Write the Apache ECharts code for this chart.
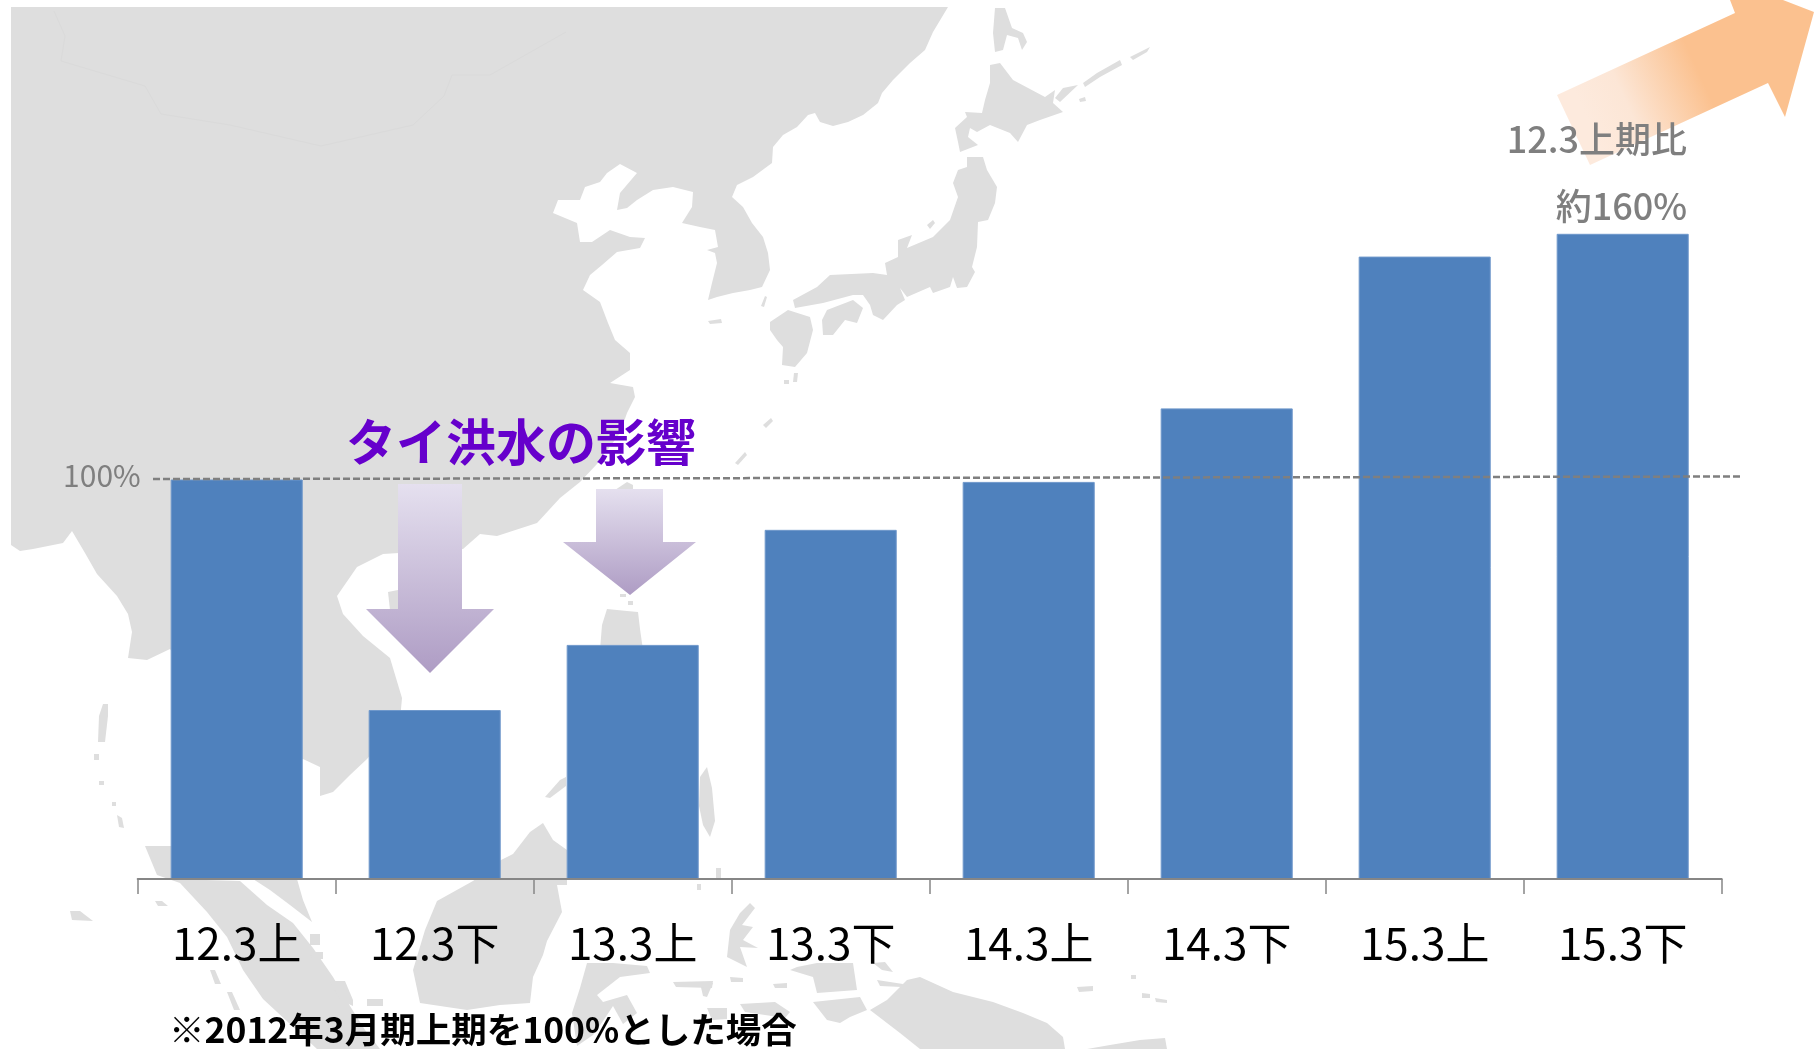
<!DOCTYPE html>
<html>
<head>
<meta charset="utf-8">
<title>chart</title>
<script src="https://cdn.jsdelivr.net/npm/echarts@6/dist/echarts.min.js"></script>
<style>
  html, body { margin: 0; padding: 0; background: #fff; }
  #chart { width: 1814px; height: 1049px; }
</style>
</head>
<body>
<div id="chart"></div>
<script>
// chart data
var categories = ['12.3上', '12.3下', '13.3上', '13.3下', '14.3上', '14.3下', '15.3上', '15.3下'];
var salesIndex = [100, 42.3, 58.6, 87.4, 99.4, 117.8, 155.8, 161.5];
var yTickLabel = '100%';
// the label sits a little above the guide in the original
var yTickAt = [101];
// 100% guide: slightly tilted in the original, x runs 0..1 over its own grid
var guideX = [0, 1];
var guideY = [100.1, 100.75];

var FONT = '"Noto Sans CJK JP", "Noto Sans", sans-serif';

// background map outline, traced by hand (page pixels), decoration only
var mapLand = [
  // asian continent
  [[11,7],[948,7],[933,32],[925,50],[910,63],[893,80],[882,93],[878,103],[863,115],[848,122],[833,126],[820,122],[815,113],[808,115],[797,127],[783,135],[773,147],[772,163],[753,177],[737,185],[732,197],[743,207],[752,223],[763,237],[768,253],[770,270],[762,287],[750,290],[733,293],[717,297],[708,300],[712,283],[717,263],[715,253],[707,250],[718,247],[715,230],[700,227],[682,223],[692,207],[693,192],[673,187],[653,190],[637,200],[627,208],[617,210],[620,193],[637,173],[620,164],[607,173],[600,182],[585,187],[580,200],[558,200],[553,213],[577,223],[580,242],[592,242],[610,230],[630,237],[645,238],[640,248],[617,252],[602,265],[590,275],[583,290],[600,302],[608,323],[615,340],[630,353],[630,370],[610,383],[633,387],[635,397],[627,413],[620,433],[597,464],[580,482],[560,498],[537,523],[497,536],[480,534],[463,549],[383,554],[357,567],[337,596],[343,614],[363,636],[390,658],[402,698],[400,720],[367,759],[350,775],[333,792],[320,796],[320,767],[303,759],[260,759],[170,649],[147,660],[128,658],[132,632],[128,614],[117,596],[97,574],[85,553],[72,531],[63,543],[33,549],[20,551],[11,545]],
  // honshu
  [[967,157],[983,157],[987,170],[997,187],[995,203],[988,220],[978,222],[977,247],[972,267],[975,272],[967,287],[957,288],[953,277],[950,287],[933,293],[930,287],[907,297],[900,288],[905,300],[897,305],[883,320],[873,315],[870,305],[863,295],[853,295],[823,303],[795,308],[793,300],[817,287],[830,275],[873,273],[887,275],[885,263],[898,257],[898,240],[912,235],[907,248],[933,237],[950,220],[958,197],[953,183],[958,170],[967,167]],
  // hokkaido
  [[990,65],[1000,63],[1013,80],[1045,97],[1055,90],[1053,103],[1063,112],[1040,120],[1027,125],[1018,142],[1010,133],[990,125],[977,132],[970,128],[968,137],[978,145],[960,152],[958,142],[955,128],[967,117],[965,112],[982,113],[985,100],[990,83]],
  // sakhalin
  [[995,8],[1005,8],[1012,28],[1023,33],[1027,42],[1022,50],[1018,38],[1007,35],[1003,50],[995,52],[993,33]],
  // kuril islands
  [[1055,98],[1063,88],[1078,85],[1060,102]],
  [[1083,83],[1097,73],[1120,60],[1122,65],[1100,77],[1085,87]],
  [[1130,57],[1150,47],[1147,52],[1133,60]],
  [[1079,99],[1085,97],[1086,101],[1080,102]],
  // kyushu, shikoku
  [[788,310],[810,317],[813,330],[807,353],[795,367],[782,365],[783,347],[777,340],[770,330],[770,322]],
  [[827,310],[853,300],[863,308],[857,323],[845,320],[833,335],[823,335],[822,320]],
  // small islands around japan
  [[794,373],[798,373],[797,382],[793,382]],
  [[784,380],[789,380],[789,384],[784,384]],
  [[927,225],[933,220],[935,223],[930,229]],
  [[761,306],[765,296],[767,297],[764,307]],
  [[708,321],[721,319],[722,323],[710,324]],
  [[763,425],[771,418],[773,421],[766,428]],
  [[735,463],[745,452],[747,455],[738,465]],
  // taiwan, hainan
  [[615,490],[627,482],[633,485],[633,490]],
  [[388,592],[398,590],[398,612],[390,610]],
  // andaman, nicobar
  [[103,704],[108,704],[108,716],[105,742],[98,742],[99,716]],
  [[94,754],[99,754],[99,760],[94,760]],
  [[99,781],[104,781],[104,785],[99,785]],
  [[112,802],[116,802],[116,806],[112,806]],
  [[117,815],[122,818],[124,828],[119,827]],
  [[70,911],[80,911],[93,921],[72,920]],
  // sumatra
  [[145,846],[172,846],[172,879],[240,881],[267,905],[293,923],[313,948],[333,977],[350,1006],[365,1030],[380,1049],[317,1049],[290,1024],[263,999],[243,970],[227,937],[207,912],[180,883],[157,875]],
  // malay tip
  [[253,879],[297,879],[303,900],[312,922],[290,905],[270,890]],
  [[155,901],[162,901],[168,906],[158,906]],
  [[210,970],[215,970],[221,984],[215,984]],
  [[227,992],[232,992],[240,1010],[234,1010]],
  [[330,981],[345,981],[353,1000],[353,1006],[340,1000]],
  [[367,999],[383,999],[383,1006],[367,1006]],
  [[310,934],[320,934],[320,945],[310,945]],
  [[310,952],[323,952],[323,959],[312,959]],
  // borneo
  [[543,823],[553,840],[567,850],[567,885],[557,885],[562,912],[547,941],[543,955],[533,977],[530,1003],[500,1005],[467,1010],[420,1003],[413,970],[425,930],[437,901],[473,881],[501,860],[513,854],[530,832]],
  // philippines
  [[607,609],[627,611],[638,612],[640,629],[643,650],[600,650],[602,625]],
  [[620,594],[626,594],[626,597],[620,597]],
  [[628,601],[633,601],[633,605],[628,605]],
  [[700,777],[707,767],[712,788],[715,821],[710,837],[703,825],[699,806]],
  [[545,797],[560,780],[566,777],[566,786],[550,798]],
  // sulawesi
  [[587,963],[613,963],[647,966],[650,973],[620,977],[597,995],[603,1002],[627,995],[637,1013],[623,1024],[613,1006],[603,1021],[593,1035],[577,1046],[572,1013],[580,988]],
  // moluccas
  [[750,903],[755,908],[742,925],[753,927],[743,940],[758,948],[740,947],[747,967],[727,957],[730,930],[740,913]],
  [[797,967],[817,963],[853,963],[857,990],[817,993],[813,977],[790,970]],
  [[813,1002],[860,997],[867,1010],[850,1017],[840,1023],[827,1020]],
  [[730,977],[743,978],[743,982],[731,982]],
  [[773,984],[787,983],[787,988],[775,988]],
  [[700,983],[713,983],[707,997],[703,996]],
  [[707,1008],[727,1008],[727,1019],[712,1020]],
  [[740,1004],[775,1002],[790,1012],[785,1018],[745,1012]],
  [[877,980],[903,984],[902,987],[880,986]],
  [[873,963],[885,962],[893,972],[882,970]],
  [[673,982],[713,981],[712,988],[676,987]],
  [[697,884],[701,884],[701,890],[697,890]],
  [[716,868],[721,868],[721,878],[716,878]],
  // new guinea and east
  [[870,1010],[887,1000],[907,980],[920,977],[953,992],[993,1002],[1023,1013],[1047,1023],[1063,1037],[1065,1049],[920,1049],[900,1033]],
  [[1087,1049],[1110,1045],[1140,1040],[1165,1038],[1167,1049]],
  [[1077,987],[1093,986],[1093,991],[1079,992]],
  [[1142,993],[1150,994],[1150,998],[1142,998]],
  [[1155,998],[1167,1000],[1167,1003],[1156,1002]],
  [[1131,975],[1136,975],[1136,979],[1131,979]]
];
// faint border north of china
var mapBorder = [[54,11],[65,36],[61,61],[145,86],[161,114],[230,125],[321,146],[413,125],[444,96],[452,75],[490,75],[566,32]];

var purpleGrad = {
  type: 'linear', x: 0, y: 0, x2: 0, y2: 1,
  colorStops: [{ offset: 0, color: '#e5e0ef' }, { offset: 1, color: '#ae9cc4' }]
};

var graphicEls = mapLand.map(function (pts) {
  return { type: 'polygon', silent: true, z: -10, shape: { points: pts }, style: { fill: '#dedede' } };
});
graphicEls.push({ type: 'polyline', silent: true, z: -9, shape: { points: mapBorder }, style: { fill: null, stroke: '#dadada', lineWidth: 1 } });

// flood arrows
graphicEls.push({
  type: 'polygon', silent: true, z: 5,
  shape: { points: [[398,484],[462,484],[462,609],[494,609],[430,673],[366,609],[398,609]] },
  style: { fill: purpleGrad }
});
graphicEls.push({
  type: 'polygon', silent: true, z: 5,
  shape: { points: [[596,489],[663,489],[663,542],[696,542],[630,595],[563,542],[596,542]] },
  style: { fill: purpleGrad }
});
// big orange arrow, runs off the page
graphicEls.push({
  type: 'polygon', silent: true, z: 5,
  shape: { points: [[1557,95],[1735,13],[1730,0],[1783,0],[1814,12],[1785,117],[1768,83],[1590,165]] },
  style: {
    fill: {
      type: 'linear', global: true, x: 1590, y: 125, x2: 1700, y2: 75,
      colorStops: [{ offset: 0, color: '#fdeadd' }, { offset: 0.35, color: '#fce6d6' }, { offset: 1, color: '#fbc18f' }]
    }
  }
});

// texts
graphicEls.push({
  type: 'text', silent: true, z: 6, left: 346, top: 417,
  style: { text: 'タイ洪水の影響', font: 'bold 50px ' + FONT, fill: '#6600cc' }
});
graphicEls.push({
  type: 'text', silent: true, z: 6, right: 127, top: 121,
  style: { text: '12.3上期比', font: '500 36px ' + FONT, fill: '#7f7f7f', textAlign: 'right' }
});
graphicEls.push({
  type: 'text', silent: true, z: 6, right: 127, top: 188,
  style: { text: '約160%', font: '500 36px ' + FONT, fill: '#7f7f7f', textAlign: 'right' }
});
graphicEls.push({
  type: 'text', silent: true, z: 6, left: 169, top: 1012,
  style: { text: '※2012年3月期上期を100%とした場合', font: 'bold 35.5px ' + FONT, fill: '#000' }
});

var chart = echarts.init(document.getElementById('chart'));
chart.setOption({
  animation: false,
  backgroundColor: '#fff',
  grid: [
    { left: 137.7, right: 92.3, top: 80, bottom: 170 },
    // the guide runs past the plot on both sides, so it gets its own grid
    { left: 153, right: 72, top: 80, bottom: 170 }
  ],
  xAxis: [{
    type: 'category',
    data: categories,
    z: 3,
    axisLine: { show: true, lineStyle: { color: '#868686', width: 2 } },
    axisTick: { show: true, length: 15, lineStyle: { color: '#868686', width: 1.5 } },
    axisLabel: { interval: 0, margin: 42, fontSize: 44, color: '#000', fontFamily: FONT }
  }, {
    type: 'value', gridIndex: 1, show: false, min: 0, max: 1
  }],
  yAxis: [{
    type: 'value',
    min: 0,
    max: 200,
    interval: 100,
    axisLine: { show: false },
    axisTick: { show: false },
    splitLine: { show: false },
    axisLabel: {
      margin: -3,
      fontSize: 30,
      color: '#7f7f7f',
      fontFamily: FONT,
      customValues: yTickAt,
      formatter: function () { return yTickLabel; }
    }
  }, {
    type: 'value', gridIndex: 1, show: false, min: 0, max: 200
  }],
  series: [{
    type: 'bar',
    data: salesIndex,
    barCategoryGap: '33.3%',
    z: 2,
    itemStyle: { color: '#4f81bd', borderColor: '#6f98cb', borderWidth: 1 }
  }, {
    type: 'line',
    xAxisIndex: 1,
    yAxisIndex: 1,
    data: [[guideX[0], guideY[0]], [guideX[1], guideY[1]]],
    clip: false,
    symbol: 'none',
    z: 4,
    lineStyle: { color: '#7f7f7f', width: 2.5, type: [7, 3] }
  }],
  graphic: { elements: graphicEls }
});
</script>
</body>
</html>
